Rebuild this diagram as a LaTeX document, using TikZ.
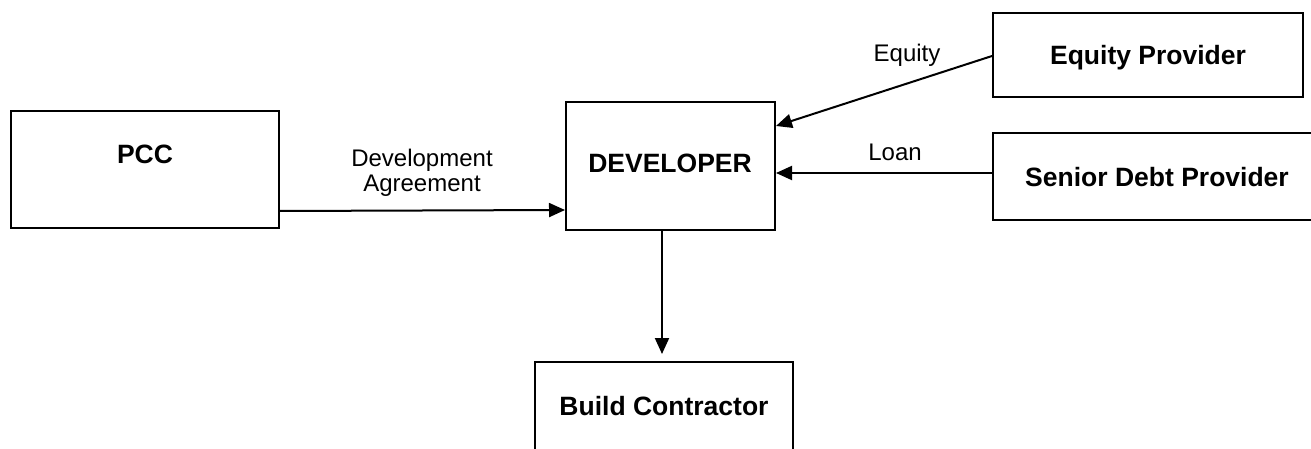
\documentclass[tikz,border=0pt]{standalone}
\usepackage{fontspec}
\setmainfont{Liberation Sans}
\usetikzlibrary{arrows.meta}
\begin{document}
\begin{tikzpicture}[x=1pt,y=-1pt,
  box/.style={draw=black, line width=2pt, inner sep=0pt, fill=white},
  boldtxt/.style={font=\fontsize{26.5}{30}\selectfont\bfseries, inner sep=0pt},
  lbl/.style={font=\fontsize{24}{25}\selectfont, inner sep=0pt, align=center},
  arr/.style={line width=2pt, -{Triangle[length=16pt,width=14pt]}}]
\useasboundingbox (0,0) rectangle (1311,449);
\clip (0,0) rectangle (1311,449);
\fill[white] (0,0) rectangle (1311,449);
% boxes
\node[box, minimum width=268pt, minimum height=117pt] (pcc) at (145,169.5) {};
\node[box, minimum width=209pt, minimum height=128pt] (dev) at (670.5,166) {};
\node[box, minimum width=310pt, minimum height=84pt] (eqp) at (1148,55) {};
\node[box, minimum width=347pt, minimum height=87pt] (sdp) at (1166.5,176.5) {};
\node[box, minimum width=258pt, minimum height=128pt] (bc) at (664,426) {};
% box texts (baseline anchored)
\node[boldtxt, anchor=base] (pcct) at (145,163.5) {PCC};
\node[boldtxt, anchor=base] (devt) at (670,172.5) {DEVELOPER};
\node[boldtxt, anchor=base] (eqpt) at (1148,64.5) {Equity Provider};
\node[boldtxt, anchor=base] (sdpt) at (1157,186.5) {Senior Debt Provider};
\node[boldtxt, anchor=base] (bct) at (664,415.5) {Build Contractor};
% connectors
\coordinate (dx) at (662,0);
\draw[arr] (pcc.east |- 0,211) -- (dev.west |- 0,210);
\draw[arr] (eqp.west |- 0,56) -- (dev.east |- 0,126);
\draw[arr] (sdp.west |- 0,173) -- (dev.east |- 0,173);
\draw[arr, shorten >=7pt] (dev.south -| dx) -- (bc.north -| dx);
% labels
\node[lbl, anchor=base] (dal) at (422,191.5) {Development\\Agreement};
\node[lbl, anchor=base] (eql) at (907,61.5) {Equity};
\node[lbl, anchor=base] (lnl) at (895,160.5) {Loan};
\end{tikzpicture}
\end{document}
